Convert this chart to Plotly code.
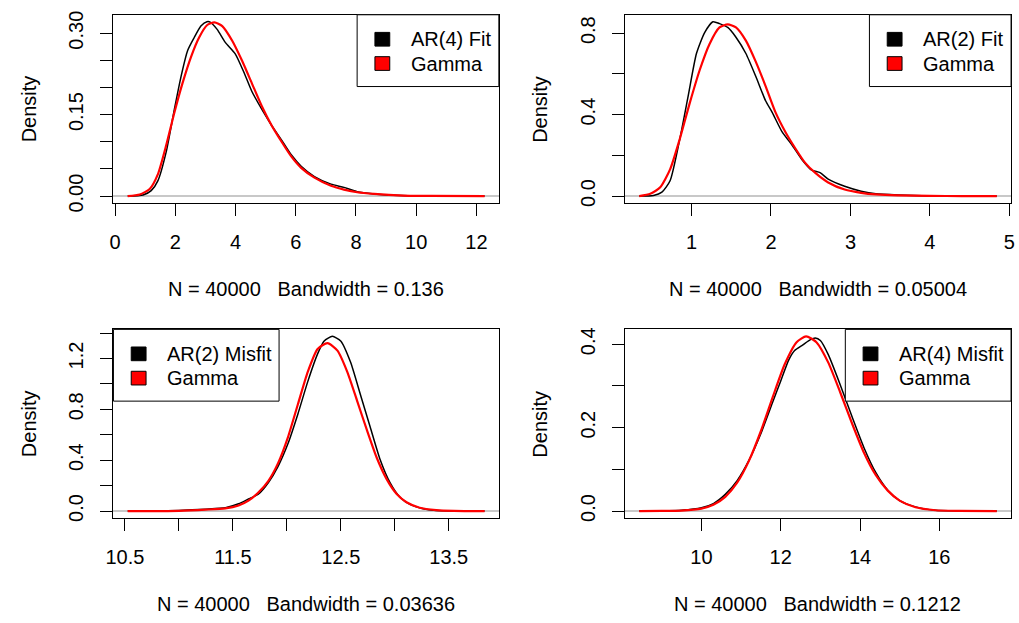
import plotly.graph_objects as go

# ---------------- data ----------------
p1_x_ar = [0.42, 0.93, 1.20, 1.42, 1.70, 1.97, 2.19, 2.41, 2.63, 2.85, 3.05, 3.17, 3.39, 3.66, 3.99, 4.27, 4.54, 4.87, 5.20, 5.53, 5.85, 6.18, 6.62, 7.17, 7.60, 8.04, 8.6, 9.5, 10.5, 12.27]
p1_y_ar = [0.0, 0.002, 0.010, 0.028, 0.082, 0.160, 0.220, 0.268, 0.292, 0.313, 0.321, 0.320, 0.307, 0.283, 0.262, 0.229, 0.193, 0.160, 0.130, 0.103, 0.076, 0.055, 0.036, 0.022, 0.016, 0.008, 0.004, 0.001, 0.0003, 0.0]
p1_x_g = [0.42, 0.82, 1.15, 1.42, 1.70, 1.97, 2.24, 2.52, 2.79, 3.06, 3.30, 3.56, 3.89, 4.21, 4.54, 4.87, 5.20, 5.53, 5.85, 6.18, 6.62, 7.17, 7.60, 8.04, 8.6, 9.57, 10.5, 12.27]
p1_y_g = [0.0, 0.003, 0.013, 0.040, 0.094, 0.154, 0.208, 0.256, 0.292, 0.315, 0.320, 0.313, 0.286, 0.250, 0.208, 0.166, 0.130, 0.100, 0.073, 0.052, 0.034, 0.019, 0.012, 0.007, 0.004, 0.001, 0.0003, 0.0]

p2_x_ar = [0.342, 0.522, 0.627, 0.730, 0.854, 0.958, 1.062, 1.165, 1.269, 1.352, 1.456, 1.559, 1.684, 1.808, 1.932, 2.015, 2.140, 2.264, 2.388, 2.513, 2.617, 2.720, 2.927, 3.134, 3.32, 3.6, 4.0, 4.4, 4.841]
p2_y_ar = [0.0, 0.003, 0.019, 0.075, 0.283, 0.492, 0.700, 0.803, 0.856, 0.847, 0.828, 0.780, 0.700, 0.588, 0.468, 0.411, 0.315, 0.251, 0.180, 0.127, 0.115, 0.083, 0.048, 0.024, 0.011, 0.005, 0.001, 0.0003, 0.0]
p2_x_g = [0.342, 0.481, 0.606, 0.730, 0.854, 0.979, 1.103, 1.227, 1.352, 1.456, 1.559, 1.684, 1.808, 1.932, 2.057, 2.181, 2.305, 2.430, 2.554, 2.720, 2.927, 3.134, 3.32, 3.6, 4.0, 4.4, 4.841]
p2_y_g = [0.0, 0.011, 0.043, 0.131, 0.283, 0.459, 0.619, 0.747, 0.828, 0.843, 0.828, 0.763, 0.660, 0.540, 0.411, 0.315, 0.235, 0.163, 0.115, 0.067, 0.032, 0.016, 0.008, 0.003, 0.001, 0.0002, 0.0]

p3_x_ar = [10.526, 10.8, 11.0, 11.248, 11.431, 11.553, 11.645, 11.736, 11.828, 11.919, 12.011, 12.102, 12.194, 12.285, 12.346, 12.422, 12.499, 12.590, 12.682, 12.773, 12.865, 12.956, 13.048, 13.140, 13.262, 13.384, 13.55, 13.832]
p3_y_ar = [0.0, 0.001, 0.005, 0.015, 0.026, 0.057, 0.095, 0.133, 0.223, 0.352, 0.531, 0.762, 1.018, 1.236, 1.338, 1.374, 1.338, 1.172, 0.915, 0.659, 0.403, 0.223, 0.108, 0.052, 0.019, 0.005, 0.001, 0.0]
p3_x_g = [10.526, 11.0, 11.248, 11.431, 11.553, 11.645, 11.736, 11.828, 11.919, 12.011, 12.102, 12.194, 12.285, 12.377, 12.469, 12.560, 12.652, 12.743, 12.835, 12.926, 13.018, 13.109, 13.231, 13.384, 13.55, 13.832]
p3_y_g = [0.0, 0.002, 0.011, 0.021, 0.044, 0.082, 0.146, 0.236, 0.377, 0.582, 0.838, 1.095, 1.275, 1.321, 1.262, 1.095, 0.865, 0.634, 0.415, 0.249, 0.134, 0.069, 0.026, 0.008, 0.002, 0.0]

p4_x_ar = [8.43, 9.0, 9.5, 10.0, 10.3, 10.6, 10.9, 11.2, 11.5, 11.8, 12.0, 12.2, 12.35, 12.55, 12.75, 12.87, 13.0, 13.2, 13.5, 13.8, 14.1, 14.4, 14.7, 15.0, 15.4, 15.9, 16.5, 17.45]
p4_y_ar = [0.0, 0.0005, 0.002, 0.008, 0.018, 0.040, 0.073, 0.122, 0.186, 0.262, 0.312, 0.362, 0.385, 0.398, 0.411, 0.415, 0.409, 0.375, 0.303, 0.226, 0.152, 0.092, 0.050, 0.025, 0.010, 0.002, 0.0004, 0.0]
p4_x_g = [8.43, 9.0, 9.5, 10.0, 10.3, 10.6, 10.9, 11.2, 11.5, 11.8, 12.1, 12.4, 12.64, 12.9, 13.2, 13.5, 13.8, 14.1, 14.4, 14.7, 15.0, 15.4, 15.9, 16.5, 17.45]
p4_y_g = [0.0, 0.0003, 0.0012, 0.006, 0.015, 0.034, 0.068, 0.121, 0.192, 0.274, 0.352, 0.405, 0.419, 0.405, 0.356, 0.285, 0.210, 0.140, 0.086, 0.049, 0.025, 0.009, 0.002, 0.0004, 0.0]

legend_names = ["AR(4) Fit", "AR(2) Fit", "AR(2) Misfit", "AR(4) Misfit"]
gamma_name = "Gamma"
subtitles = ["N = 40000   Bandwidth = 0.136", "N = 40000   Bandwidth = 0.05004",
             "N = 40000   Bandwidth = 0.03636", "N = 40000   Bandwidth = 0.1212"]

x_tickvals = [[0, 2, 4, 6, 8, 10, 12], [1, 2, 3, 4, 5],
              [10.5, 11.0, 11.5, 12.0, 12.5, 13.0, 13.5], [10, 12, 14, 16]]
x_ticktext = [["0", "2", "4", "6", "8", "10", "12"], ["1", "2", "3", "4", "5"],
              ["10.5", "", "11.5", "", "12.5", "", "13.5"], ["10", "12", "14", "16"]]
y_tickvals = [[0, 0.05, 0.10, 0.15, 0.20, 0.25, 0.30], [0, 0.2, 0.4, 0.6, 0.8],
              [0, 0.2, 0.4, 0.6, 0.8, 1.0, 1.2, 1.4], [0, 0.1, 0.2, 0.3, 0.4]]
y_ticktext = [["0.00", "", "", "0.15", "", "", "0.30"], ["0.0", "", "0.4", "", "0.8"],
              ["0.0", "", "0.4", "", "0.8", "", "1.2", ""], ["0.0", "", "0.2", "", "0.4"]]

panels = [
    (p1_x_ar, p1_y_ar, p1_x_g, p1_y_g),
    (p2_x_ar, p2_y_ar, p2_x_g, p2_y_g),
    (p3_x_ar, p3_y_ar, p3_x_g, p3_y_g),
    (p4_x_ar, p4_y_ar, p4_x_g, p4_y_g),
]

# ---------------- layout geometry ----------------
W, H = 1019, 623
# plot boxes in page pixels (left, right, top, bottom)
boxes = [(106.7, 496.7, 11.0, 203.3), (624.3, 1015.0, 11.0, 203.3),
         (106.7, 496.7, 332.3, 525.0), (624.3, 1015.0, 332.3, 525.0)]
legend_at_left = [False, False, True, False]
legend_w = [143.4, 143.3, 167.6, 167.7]
legend_h = 73.3

FONT = "Liberation Sans, Arial, Helvetica, sans-serif"

def px(xp):
    return xp / W

def py(yp):
    return 1 - yp / H

def pad_range(vals):
    lo, hi = min(vals), max(vals)
    d = hi - lo
    return [lo - 0.04 * d, hi + 0.04 * d]

fig = go.Figure()
layout = dict(width=W, height=H, autosize=False,
              margin=dict(l=0, r=0, t=0, b=0),
              paper_bgcolor="white", plot_bgcolor="white",
              font=dict(family=FONT, size=20, color="black"),
              showlegend=False)
annotations = []
shapes = []

for i, (xa, ya, xg, yg) in enumerate(panels):
    n = i + 1
    xs = "x" if n == 1 else f"x{n}"
    ys = "y" if n == 1 else f"y{n}"
    fig.add_trace(go.Scatter(x=xa, y=ya, xaxis=xs, yaxis=ys, mode="lines",
                             name=legend_names[i],
                             line=dict(color="black", width=1.5, shape="spline", smoothing=0.6),
                             hoverinfo="skip"))
    fig.add_trace(go.Scatter(x=xg, y=yg, xaxis=xs, yaxis=ys, mode="lines",
                             name=gamma_name,
                             line=dict(color="#ff0000", width=2.2, shape="spline", smoothing=0.6),
                             hoverinfo="skip"))

    l, r, t, b = boxes[i]
    xr = pad_range(xa + xg)
    yr = pad_range(ya + yg)
    xkey = "xaxis" if n == 1 else f"xaxis{n}"
    ykey = "yaxis" if n == 1 else f"yaxis{n}"
    layout[xkey] = dict(domain=[px(l), px(r)], anchor=ys, range=xr,
                        showline=True, mirror=True, linecolor="black", linewidth=1,
                        ticks="outside", ticklen=12, tickwidth=1, tickcolor="black",
                        tickvals=x_tickvals[i], ticktext=x_ticktext[i],
                        showgrid=False, zeroline=False,
                        tickfont=dict(size=20, color="black"), ticklabelstandoff=9)
    layout[ykey] = dict(domain=[py(b), py(t)], anchor=xs, range=yr,
                        showline=True, mirror=True, linecolor="black", linewidth=1,
                        ticks="outside", ticklen=12, tickwidth=1, tickcolor="black",
                        tickvals=y_tickvals[i], ticktext=y_ticktext[i], tickangle=-90,
                        showgrid=False, zeroline=True, zerolinecolor="#c8c8c8",
                        zerolinewidth=1.5,
                        tickfont=dict(size=20, color="black"), ticklabelstandoff=9)

    # legend in R style: framed box, filled keys, labels
    lx0 = l if legend_at_left[i] else r - legend_w[i]
    lx1 = lx0 + legend_w[i]
    shapes.append(dict(type="rect", xref="paper", yref="paper",
                       x0=px(lx0), x1=px(lx1), y0=py(t + legend_h), y1=py(t),
                       line=dict(color="black", width=1), fillcolor="white", layer="above"))
    for k, (lab, col) in enumerate([(legend_names[i], "black"), (gamma_name, "#ff0000")]):
        cy = t + 25 + 24.8 * k
        shapes.append(dict(type="rect", xref="paper", yref="paper",
                           x0=px(lx0 + 18), x1=px(lx0 + 33), y0=py(cy + 7), y1=py(cy - 7),
                           line=dict(color="black", width=1), fillcolor=col, layer="above"))
        annotations.append(dict(text=lab, x=px(lx0 + 52), y=py(cy),
                                xref="paper", yref="paper", showarrow=False,
                                xanchor="left", yanchor="middle",
                                font=dict(size=20, color="black")))

    cx = (l + r) / 2
    annotations.append(dict(text=subtitles[i], x=px(cx), y=py(b + 87.5),
                            xref="paper", yref="paper", showarrow=False,
                            xanchor="center", yanchor="middle",
                            font=dict(size=20, color="black")))
    annotations.append(dict(text="Density", x=px(l - 86), y=py((t + b) / 2),
                            xref="paper", yref="paper", showarrow=False, textangle=-90,
                            xanchor="center", yanchor="middle",
                            font=dict(size=20, color="black")))

layout["annotations"] = annotations
layout["shapes"] = shapes
fig.update_layout(**layout)
fig.write_html("out.html")
